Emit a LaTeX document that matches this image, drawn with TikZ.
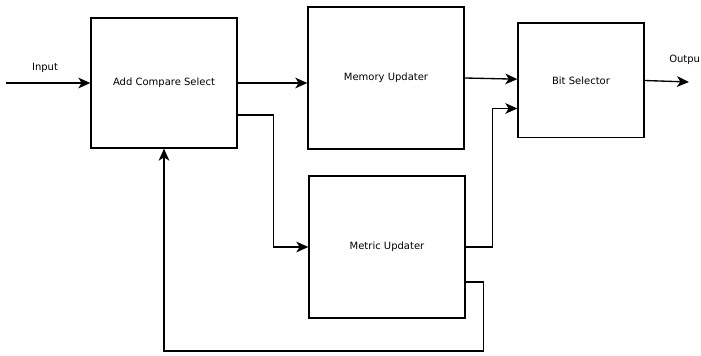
\documentclass[tikz,border=0pt]{standalone}
\usepackage{fontspec}
\setmainfont{DejaVu Sans}
\usetikzlibrary{arrows.meta}

\begin{document}
\begin{tikzpicture}[
            x=0.75pt, y=-0.75pt,
            font=\fontsize{7.5}{9}\selectfont,
            block/.style={draw, line width=1pt, inner sep=0pt},
            flow/.style={->, >={Stealth[length=9pt, width=8pt, inset=2.5pt]}, line width=1pt},
        ]
            \useasboundingbox (0,0) rectangle (701,356);

            % --- Bloques ---
            \node[block, minimum width=109.5pt, minimum height=97.5pt] (acs) at (164,83) {Add Compare Select};
            \node[block, minimum width=117pt, minimum height=106.5pt] (mem) at (386,78) {Memory Updater};
            \node[block, minimum width=94.5pt, minimum height=86pt] (bit) at (581,80.5) {Bit Selector};
            \node[block, minimum width=117pt, minimum height=106.5pt] (met) at (387,247) {Metric Updater};

            % --- Entrada y salida ---
            \coordinate (in) at (6,83);
            \coordinate (out) at (689,82);
            \node (inlabel) at (45,68) {Input};
            \node[anchor=west, inner sep=0pt] (outlabel) at (669,60) {Outpu};

            % --- Conexiones ---
            \draw[flow] (in) -- (acs.west);
            \draw[flow] (acs.east) -- (acs.east -| mem.west);
            \draw[flow] (mem.east) -- ([yshift=1pt]bit.west);
            \draw[flow] (bit.east) -- (out);
            \draw[flow] ([yshift=-24pt]acs.east) -- ++(36,0) |- (met.west);
            \draw[flow] (met.east) -- ++(27,0) |- ([yshift=-21pt]bit.west);
            \draw[flow] ([yshift=-26.25pt]met.east) -- ++(18,0) -- ++(0,69) -| (acs.south);
        \end{tikzpicture}
\end{document}
